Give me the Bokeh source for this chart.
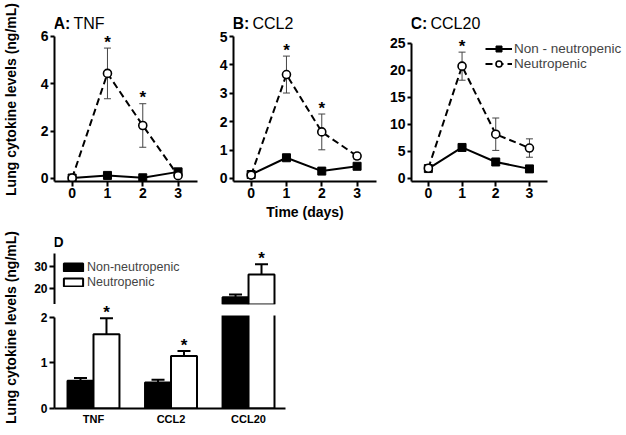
import math
from bokeh.plotting import figure
from bokeh.models import (Range1d, FixedTicker, Whisker, TeeHead,
                          ColumnDataSource, Legend, LegendItem, Label)
from bokeh.layouts import row, column
from bokeh.embed import file_html
from bokeh.resources import INLINE
from bokeh.core.properties import value

FONT = "Liberation Sans"

# ---------------- time-course data (panels A-C) ----------------
days = [0, 1, 2, 3]

tnf_non = [0.02, 0.13, 0.03, 0.28]
tnf_non_err = [0.0, 0.04, 0.02, 0.05]
tnf_neu = [0.02, 4.44, 2.24, 0.12]
tnf_neu_err = [0.0, 1.07, 0.92, 0.05]
tnf_sig = [False, True, True, False]
tnf_ticks = [0, 2, 4, 6]

ccl2_non = [0.14, 0.73, 0.26, 0.43]
ccl2_non_err = [0.03, 0.08, 0.03, 0.04]
ccl2_neu = [0.12, 3.66, 1.64, 0.79]
ccl2_neu_err = [0.02, 0.65, 0.63, 0.11]
ccl2_sig = [False, True, True, False]
ccl2_ticks = [0, 1, 2, 3, 4, 5]

ccl20_non = [1.84, 5.75, 3.06, 1.78]
ccl20_non_err = [0.1, 0.5, 0.2, 0.1]
ccl20_neu = [1.90, 20.8, 8.2, 5.64]
ccl20_neu_err = [0.1, 2.6, 3.0, 1.7]
ccl20_sig = [False, True, False, False]
ccl20_ticks = [0, 5, 10, 15, 20, 25]

series_labels = ["Non - neutropenic", "Neutropenic"]
y_title = "Lung cytokine levels (ng/mL)"
x_title = "Time (days)"

# ---------------- bar data (panel D) ----------------
bar_cats = ["TNF", "CCL2", "CCL20"]
bar_non = [0.61, 0.57, 16.0]
bar_non_err = [0.06, 0.06, 1.3]
bar_neu = [1.63, 1.15, 26.4]
bar_neu_err = [0.35, 0.11, 4.6]
bar_neu_sig = [True, True, True]
bar_labels = ["Non-neutropenic", "Neutropenic"]
lower_ticks = [0, 1, 2]
upper_ticks = [20, 30]
GAP_START = 2.04   # where the white break gap begins (lower-axis units)


def style_axis(ax, size="14px"):
    ax.axis_line_width = 2
    ax.axis_line_color = "black"
    ax.major_tick_line_width = 2
    ax.major_tick_line_color = "black"
    ax.major_tick_in = 0
    ax.major_tick_out = 4
    ax.minor_tick_line_color = None
    ax.major_label_text_font = FONT
    ax.major_label_text_font_style = "bold"
    ax.major_label_text_font_size = size
    ax.major_label_text_color = "black"
    ax.major_label_standoff = 2
    ax.axis_label_text_font = FONT
    ax.axis_label_text_font_style = "bold"
    ax.axis_label_text_font_size = "14px"
    ax.axis_label_text_color = "black"


def clean(p):
    p.outline_line_color = None
    p.xgrid.visible = False
    p.ygrid.visible = False
    p.background_fill_color = None
    p.border_fill_color = None


def label_fig(height, yfrac):
    p = figure(width=22, height=height, x_range=Range1d(0, 1), y_range=Range1d(0, 1),
               output_backend="svg", toolbar_location=None, x_axis_location=None,
               y_axis_location=None, min_border=0)
    clean(p)
    p.add_layout(Label(x=0.47, y=yfrac, text=y_title, angle=math.pi / 2,
                       text_font=FONT, text_font_style="bold", text_font_size="14px",
                       text_align="center", text_baseline="middle", text_color="black"))
    return p


def panel(letter, name, non, non_err, neu, neu_err, sig, ticks,
          width, bl, br, x_end, axis_x_end, y_lo, y_hi, xlabel=None, legend_loc=None):
    p = figure(width=width, height=225, x_range=Range1d(-0.5, x_end),
               y_range=Range1d(y_lo, y_hi), output_backend="svg",
               toolbar_location=None, min_border_left=bl, min_border_right=br,
               min_border_top=0, min_border_bottom=44)
    clean(p)

    l_non = p.line(days, non, line_color="black", line_width=2)
    l_neu = p.line(days, neu, line_color="black", line_width=2, line_dash="7 4")
    s_non = p.scatter(days, non, marker="square", size=8, fill_color="black",
                      line_color="black")
    s_neu = p.scatter(days, neu, marker="circle", size=8, fill_color="white",
                      line_color="black", line_width=1.6)

    for vals, errs in ((non, non_err), (neu, neu_err)):
        src = ColumnDataSource(dict(x=days,
                                    lo=[v - e for v, e in zip(vals, errs)],
                                    hi=[v + e for v, e in zip(vals, errs)]))
        p.add_layout(Whisker(source=src, base="x", lower="lo", upper="hi",
                             line_color="#444444", line_width=1,
                             upper_head=TeeHead(size=7, line_color="#444444", line_width=1),
                             lower_head=TeeHead(size=7, line_color="#444444", line_width=1)))

    sx = [d for d, s in zip(days, sig) if s]
    sy = [v + e for v, e, s in zip(neu, neu_err, sig) if s]
    p.text(sx, sy, text=["*"] * len(sx), text_font=value(FONT),
           text_font_style="bold", text_font_size="17px", text_align="center",
           text_baseline="alphabetic", text_color="black", y_offset=-6)

    p.xaxis.ticker = FixedTicker(ticks=days)
    p.xaxis.bounds = (-0.5, axis_x_end)
    p.yaxis.ticker = FixedTicker(ticks=ticks)
    p.yaxis.bounds = (y_lo, ticks[-1])
    style_axis(p.xaxis[0])
    style_axis(p.yaxis[0])
    p.xaxis.major_tick_out = 5
    p.xaxis.major_label_standoff = 1
    if xlabel:
        p.xaxis.axis_label = xlabel
        p.xaxis.axis_label_standoff = 3

    p.add_layout(Label(x=-0.5, y=y_hi, x_offset=-1, y_offset=-23, text=letter + ":",
                       text_font=FONT, text_font_style="bold", text_font_size="16px",
                       text_baseline="alphabetic", text_color="black"))
    p.add_layout(Label(x=-0.5, y=y_hi, x_offset=19, y_offset=-23,
                       text=name, text_font=FONT, text_font_size="16px",
                       text_baseline="alphabetic", text_color="black"))

    if legend_loc is not None:
        leg = Legend(items=[LegendItem(label=series_labels[0], renderers=[l_non, s_non]),
                            LegendItem(label=series_labels[1], renderers=[l_neu, s_neu])],
                     location=legend_loc, glyph_width=27, glyph_height=15,
                     label_height=15, spacing=0, padding=0, margin=0,
                     label_standoff=2, label_text_font=FONT,
                     label_text_font_size="13.5px", background_fill_alpha=0,
                     border_line_color=None)
        p.add_layout(leg)
    return p


pA = panel("A", "TNF", tnf_non, tnf_non_err, tnf_neu, tnf_neu_err, tnf_sig, tnf_ticks,
           188, 32, 13, 3.55, 3.55, -0.127, 7.521)
pB = panel("B", "CCL2", ccl2_non, ccl2_non_err, ccl2_neu, ccl2_neu_err, ccl2_sig, ccl2_ticks,
           173, 23, 7, 3.55, 3.55, -0.106, 6.268, xlabel=x_title)
pC = panel("C", "CCL20", ccl20_non, ccl20_non_err, ccl20_neu, ccl20_neu_err, ccl20_sig,
           ccl20_ticks, 243, 28, 0, 5.88, 3.53, -0.556, 32.96, legend_loc=(74, 110))

# ---------------- panel D: bars on a broken axis (two stacked frames) ----------------
BW = 0.335
X0, X1 = -0.503, 2.477
idx = list(range(len(bar_cats)))


def bar_frame(height, y_lo, y_hi, bt, bb):
    p = figure(width=268, height=height, x_range=Range1d(X0, X1),
               y_range=Range1d(y_lo, y_hi), output_backend="svg", toolbar_location=None,
               min_border_left=32, min_border_right=5, min_border_top=bt,
               min_border_bottom=bb)
    clean(p)
    rs = []
    for vals, errs, fill, off in ((bar_non, bar_non_err, "black", -BW / 2),
                                  (bar_neu, bar_neu_err, "white", BW / 2)):
        keep = [i for i, v in zip(idx, vals) if v > y_lo]
        xs = [i + off for i in keep]
        vs = [vals[i] for i in keep]
        hs = [vals[i] + errs[i] for i in keep]
        rs.append(p.vbar(x=xs, top=vs, bottom=0, width=BW, fill_color=fill,
                         line_color="black", line_width=2))
        src = ColumnDataSource(dict(x=xs, lo=vs, hi=hs))
        p.add_layout(Whisker(source=src, base="x", lower="lo", upper="hi",
                             line_color="black", line_width=2,
                             upper_head=TeeHead(size=13, line_color="black", line_width=2),
                             lower_head=None))
    return p, rs


def bar_stars(p, y_lo, y_hi):
    tops = [v + e for v, e in zip(bar_neu, bar_neu_err)]
    ok = [s and y_lo < t < y_hi for s, t in zip(bar_neu_sig, tops)]
    sx = [i + BW / 2 for i, k in zip(idx, ok) if k]
    sy = [t for t, k in zip(tops, ok) if k]
    p.text(sx, sy, text=["*"] * len(sx), text_font=value(FONT), text_font_style="bold",
           text_font_size="17px", text_align="center", text_baseline="alphabetic",
           text_color="black", y_offset=-6)


# upper segment (20-30 scale)
U_LO, U_HI = 12.73, 48.64
pU, rsU = bar_frame(79, U_LO, U_HI, 0, 0)
bar_stars(pU, U_LO, U_HI)
pU.xaxis.visible = False
pU.yaxis.ticker = FixedTicker(ticks=upper_ticks)
pU.yaxis.bounds = (U_LO, 35.9)
style_axis(pU.yaxis[0], "12px")
pU.yaxis.major_tick_out = 5
pU.add_layout(Label(x=X0, y=U_HI, x_offset=-1, y_offset=-16, text="D", text_font=FONT,
                    text_font_style="bold", text_font_size="14px",
                    text_baseline="alphabetic", text_color="black"))
pU.add_layout(Legend(items=[LegendItem(label=bar_labels[0], renderers=[rsU[0]]),
                            LegendItem(label=bar_labels[1], renderers=[rsU[1]])],
                     location=(7, 15), glyph_width=24, glyph_height=10, label_height=15,
                     spacing=0, padding=0, margin=0, label_standoff=2,
                     label_text_font=FONT, label_text_font_size="12.5px",
                     background_fill_alpha=0, border_line_color=None))

# lower segment (0-2 scale)
L_HI = 2.283
pL, rsL = bar_frame(123, 0, L_HI, 0, 18)
split = [i for i in idx if max(bar_non[i], bar_neu[i]) > lower_ticks[-1]]
pL.quad(left=[i - BW * 1.3 for i in split], right=[i + BW * 1.3 for i in split],
        bottom=[GAP_START] * len(split), top=[L_HI] * len(split),
        fill_color="white", line_color=None)
bar_stars(pL, 0, L_HI)
pL.yaxis.ticker = FixedTicker(ticks=lower_ticks)
pL.yaxis.bounds = (0, lower_ticks[-1])
style_axis(pL.yaxis[0], "12px")
pL.yaxis.major_tick_out = 5
pL.xaxis.ticker = FixedTicker(ticks=idx)
pL.xaxis.major_label_overrides = {i: c for i, c in zip(idx, bar_cats)}
style_axis(pL.xaxis[0], "11px")
pL.xaxis.major_tick_line_color = None
pL.xaxis.major_tick_out = 0
pL.xaxis.major_label_standoff = 4

top = row(label_fig(225, 0.56), column(row(pA, pB, pC)))
bottom = row(label_fig(202, 0.495), column(pU, pL))
layout = column(top, bottom)
open("out.html", "w").write(file_html(layout, INLINE))
